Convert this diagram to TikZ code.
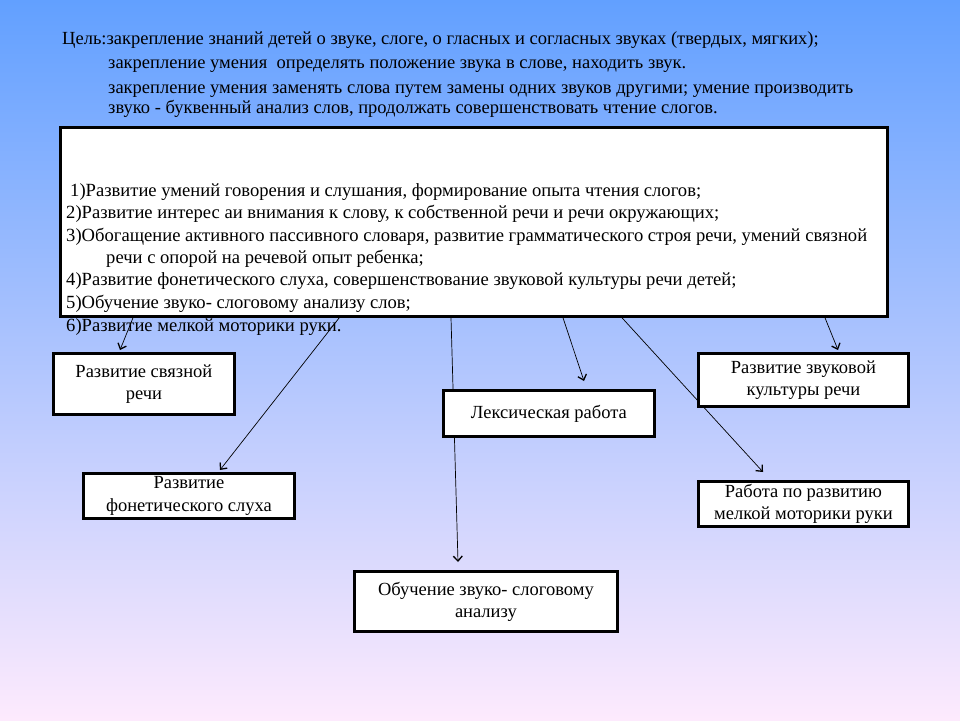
\documentclass[tikz,border=0pt]{standalone}
\usepackage{fontspec}
\setmainfont{Liberation Serif}
\usetikzlibrary{arrows.meta,calc}
\pgfdeclarelayer{bg}
\pgfsetlayers{bg,main}
\definecolor{bgtop}{RGB}{98,160,255}
\definecolor{bgbot}{RGB}{253,234,253}
\tikzset{
  boxnode/.style={draw=black,fill=white,line width=2.8pt,anchor=north west,inner sep=0pt,
    align=center,font=\fontsize{18.5}{22}\selectfont},
  conn/.style={draw=black,line width=0.7pt,-{Straight Barb[length=5pt,width=9pt,line width=1.3pt]}},
  toptext/.style={anchor=base west,inner sep=0pt,font=\fontsize{18.5}{20}\selectfont},
  goaltext/.style={anchor=base west,inner sep=0pt,font=\fontsize{18.6}{20}\selectfont},
}
\begin{document}
\begin{tikzpicture}[x=1pt,y=-1pt]
\useasboundingbox (0,0) rectangle (960,720);
% goals text above the box
\node[toptext] (aim1) at (62,44) {Цель:закрепление знаний детей о звуке, слоге, о гласных и согласных звуках (твердых, мягких);};
\node[toptext] (aim2) at (108,68) {закрепление умения\ \ определять положение звука в слове, находить звук.};
\node[toptext] (aim3) at (108,93) {закрепление умения заменять слова путем замены одних звуков другими; умение производить};
\node[toptext] (aim4) at (108,113) {звуко - буквенный анализ слов, продолжать совершенствовать чтение слогов.};
% big box
\node[draw=black,fill=white,line width=2.8pt,anchor=north west,inner sep=0pt,
      minimum width=827pt,minimum height=189pt] (goals) at (59,126) {};
\node[goaltext] (g1) at (70,196) {1)Развитие умений говорения и слушания, формирование опыта чтения слогов;};
\node[goaltext] (g2) at (66,218.5) {2)Развитие интерес аи внимания к слову, к собственной речи и речи окружающих;};
\node[goaltext] (g3) at (66,241) {3)Обогащение активного пассивного словаря, развитие грамматического строя речи, умений связной};
\node[goaltext] (g3b) at (106,263) {речи с опорой на речевой опыт ребенка;};
\node[goaltext] (g4) at (66,285) {4)Развитие фонетического слуха, совершенствование звуковой культуры речи детей;};
\node[goaltext] (g5) at (66,308) {5)Обучение звуко- слоговому анализу слов;};
\node[goaltext] (g6) at (66,331) {6)Развитие мелкой моторики руки.};
% target boxes
\node[boxnode,minimum width=181pt,minimum height=61pt] (svyaz) at (52,352) {Развитие связной\\речи};
\node[boxnode,minimum width=211pt,minimum height=45pt] (fonet) at (82,472) {Развитие\\[1pt]фонетического слуха};
\node[boxnode,minimum width=211pt,minimum height=46pt] (leks) at (442,389) {Лексическая работа};
\node[boxnode,minimum width=210pt,minimum height=53pt] (zvuk) at (697,352) {Развитие звуковой\\культуры речи};
\node[boxnode,minimum width=210pt,minimum height=45pt] (rabota) at (697,480) {Работа по развитию\\мелкой моторики руки};
\node[boxnode,minimum width=263pt,minimum height=60pt] (obuch) at (353,570) {Обучение звуко- слоговому\\анализу};
% background and connectors
\begin{pgfonlayer}{bg}
\shade[top color=bgtop,bottom color=bgbot] (0,0) rectangle (960,720);
\draw[conn] ($(goals.south west)+(74,0)$) -- ($(svyaz.north west)+(68,-2)$);
\draw[conn] ($(goals.south west)+(281,-1)$) -- ($(fonet.north west)+(138,-2)$);
\draw[conn] ($(goals.south west)+(392,0)$) -- ($(obuch.north west)+(105,-8)$);
\draw[conn] ($(goals.south west)+(504,0)$) -- ($(leks.north west)+(142,-8)$);
\draw[conn] ($(goals.south west)+(563,0)$) -- ($(rabota.north west)+(66,-8)$);
\draw[conn] ($(goals.south west)+(766,0)$) -- ($(zvuk.north west)+(141,-2)$);
\end{pgfonlayer}
\end{tikzpicture}
\end{document}
